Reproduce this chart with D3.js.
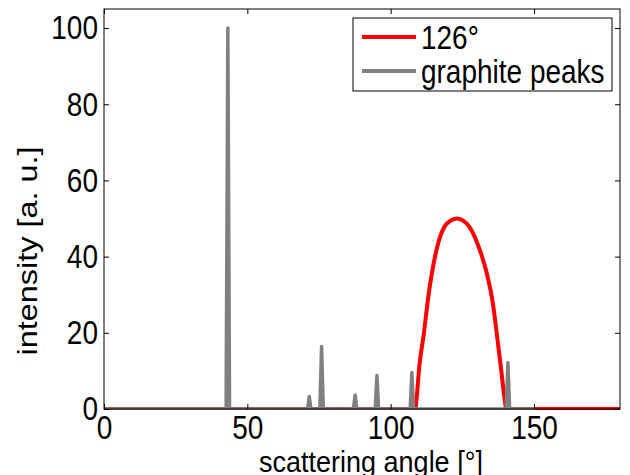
<!DOCTYPE html>
<html>
<head>
<meta charset="utf-8">
<script src="https://cdn.jsdelivr.net/npm/d3@7"></script>
<style>
  body { margin: 0; background: #fff; }
  text { font-family: "Liberation Sans", Arial, sans-serif; fill: #000; }
</style>
</head>
<body>
<script>
// red curve (126°)
var redAngle = [0, 108.6, 109.0, 110.0, 111.6, 113.0, 114.2, 116.6, 118.8, 121.0, 123.2, 125.4, 127.4, 130.2, 132.2, 133.8, 135.6, 137.0, 138.4, 139.8, 140.3, 180];
var redValue = [0, 0, 2.4, 11.2, 19.9, 28.7, 34.8, 43.6, 47.9, 49.5, 50, 49.4, 47.9, 43.6, 39.2, 34.8, 28.0, 19.9, 11.2, 2.4, 0, 0];

// graphite peaks
var peakAngle = [43.2, 71.6, 75.9, 87.6, 95.2, 107.4, 140.9];
var peakHeight = [100, 3.3, 16.4, 3.7, 8.8, 9.6, 12.2];
var graphiteEnd = 150;

var xTicks = [0, 50, 100, 150];
var yTicks = [0, 20, 40, 60, 80, 100];
var legendLabels = ["126°", "graphite peaks"];

var W = 630, H = 475;
var margin = {top: 9, right: 10, bottom: 66, left: 104};
var w = W - margin.left - margin.right;
var h = H - margin.top - margin.bottom;
var stretch = 1.2; // the source figure's text is taller than wide

var svg = d3.select("body").append("svg")
    .attr("width", W).attr("height", H);

var x = d3.scaleLinear().domain([0, 180]).range([0, w]);
var y = d3.scaleLinear().domain([0, 105]).range([h, 0]);

var g = svg.append("g").attr("transform", "translate(" + margin.left + "," + margin.top + ")");

svg.append("defs").append("clipPath").attr("id", "clip")
  .append("rect").attr("width", w).attr("height", h + 3).attr("y", -2);

var line = d3.line().x(function (d) { return x(d[0]); }).y(function (d) { return y(d[1]); });

// red line
var redPts = redAngle.map(function (a, i) { return [a, redValue[i]]; });
g.append("path")
  .attr("clip-path", "url(#clip)")
  .attr("d", line.curve(d3.curveMonotoneX)(redPts))
  .attr("fill", "none").attr("stroke", "#ff0000").attr("stroke-width", 4);

// graphite peaks as spikes
var grayPts = [[0, 0]];
peakAngle.forEach(function (p, i) {
  grayPts.push([p - 0.6, 0], [p, peakHeight[i]], [p + 0.6, 0]);
});
grayPts.push([graphiteEnd, 0]);

g.append("path")
  .attr("clip-path", "url(#clip)")
  .attr("d", line.curve(d3.curveLinear)(grayPts))
  .attr("fill", "none").attr("stroke", "#808080").attr("stroke-width", 3.5)
  .attr("stroke-linejoin", "round").attr("stroke-linecap", "round");

// box and inner ticks
g.append("rect").attr("width", w).attr("height", h)
  .attr("fill", "none").attr("stroke", "#000").attr("stroke-width", 1);

var xb = g.append("g").attr("transform", "translate(0," + h + ")")
  .call(d3.axisBottom(x).tickValues(xTicks).tickSizeInner(-5).tickSizeOuter(0).tickPadding(8));
var xt = g.append("g")
  .call(d3.axisTop(x).tickValues(xTicks).tickSizeInner(-5).tickSizeOuter(0).tickFormat(""));
var yl = g.append("g")
  .call(d3.axisLeft(y).tickValues(yTicks).tickSizeInner(-5).tickSizeOuter(0).tickPadding(6));
var yr = g.append("g").attr("transform", "translate(" + w + ",0)")
  .call(d3.axisRight(y).tickValues(yTicks).tickSizeInner(-5).tickSizeOuter(0).tickFormat(""));

// stretch a text vertically around its own middle
function tall(sel) {
  sel.each(function () {
    var b = this.getBBox();
    var cy = b.y + b.height / 2;
    d3.select(this).attr("transform",
      "translate(0," + cy + ") scale(1," + stretch + ") translate(0," + (-cy) + ")");
  });
}

[xb, xt, yl, yr].forEach(function (a) {
  a.select(".domain").remove();
  a.selectAll("line").attr("stroke", "#000");
  a.selectAll("text").style("font-size", "28px").attr("fill", "#000");
});
tall(xb.selectAll("text"));
tall(yl.selectAll("text"));

// axis titles
svg.append("text")
  .attr("transform", "translate(371,472) scale(1,1.12)")
  .attr("text-anchor", "middle").style("font-size", "27px")
  .text("scattering angle [°]");

svg.append("text")
  .attr("transform", "translate(37,251) rotate(-90) scale(" + stretch + ",1)")
  .attr("text-anchor", "middle").style("font-size", "27px")
  .text("intensity [a. u.]");

// legend
var lg = svg.append("g").attr("transform", "translate(353,18)");
lg.append("rect").attr("width", 259).attr("height", 73)
  .attr("fill", "#fff").attr("stroke", "#000").attr("stroke-width", 1);
var colors = ["#ff0000", "#808080"];
legendLabels.forEach(function (t, i) {
  var cy = 19 + i * 34;
  lg.append("line").attr("x1", 9).attr("x2", 63).attr("y1", cy).attr("y2", cy)
    .attr("stroke", colors[i]).attr("stroke-width", 4);
  lg.append("text").attr("x", 68).attr("y", cy + 10).style("font-size", "28px").text(t)
    .call(tall);
});
</script>
</body>
</html>
